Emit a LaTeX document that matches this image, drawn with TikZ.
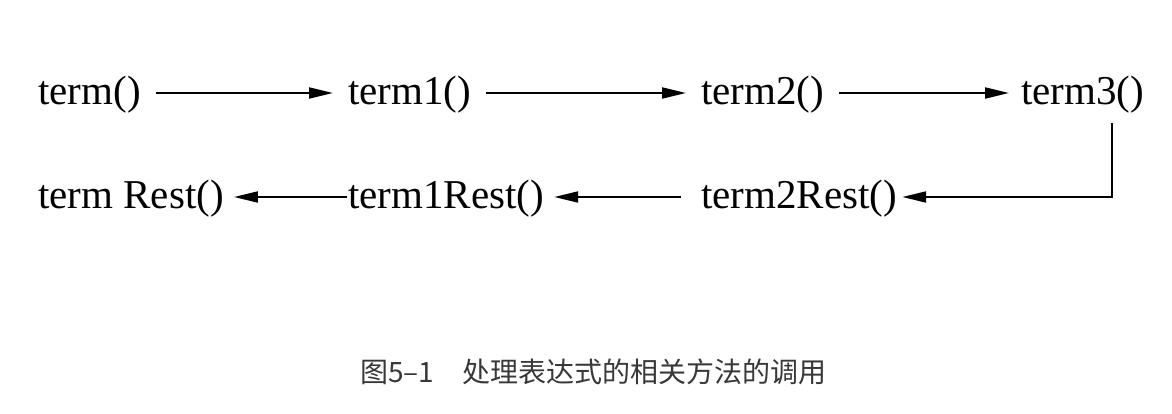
\documentclass[tikz,border=0pt]{standalone}
\usepackage{fontspec}
\setmainfont{Liberation Serif}
\newfontfamily\cjk{Noto Sans CJK SC}
\usetikzlibrary{arrows.meta}
\begin{document}
\begin{tikzpicture}[x=1pt,y=-1pt,
  fn/.style={inner sep=0pt,anchor=base west,font=\fontsize{41}{41}\selectfont},
  arr/.style={line width=2pt,-{Triangle[length=24pt,width=11pt]}}]
\useasboundingbox[fill=white] (0,0) rectangle (1172,414);
\coordinate (r1) at (0,93);
\coordinate (r2) at (0,197);
\node[fn] (t0) at (38,105) {term()};
\node[fn] (t1) at (348,105) {term1()};
\node[fn] (t2) at (701,105) {term2()};
\node[fn] (t3) at (1021,105) {term3()};
\node[fn] (tr) at (38,208) {term Rest()};
\node[fn] (t1r) at (348,208) {term1Rest()};
\node[fn] (t2r) at (701,208) {term2Rest()};
\coordinate (corner) at (1112,197);
\coordinate (top) at (1112,123);
\draw[arr] ([xshift=15pt]t0.east |- r1) -- ([xshift=-15pt]t1.west |- r1);
\draw[arr] ([xshift=15pt]t1.east |- r1) -- ([xshift=-15pt]t2.west |- r1);
\draw[arr] ([xshift=15pt]t2.east |- r1) -- ([xshift=-12pt]t3.west |- r1);
\draw[arr] (top) -- (corner) -- ([xshift=5pt]t2r.east |- r2);
\draw[arr] ([xshift=-20pt]t2r.west |- r2) -- ([xshift=10pt]t1r.east |- r2);
\draw[arr] ([xshift=-1pt]t1r.west |- r2) -- ([xshift=10pt]tr.east |- r2);
\node[inner sep=0pt,anchor=west,text=black!78,font=\cjk\fontsize{28}{28}\selectfont] (cap) at (360,372) {图5–1\hspace{28pt}处理表达式的相关方法的调用};
\end{tikzpicture}
\end{document}
